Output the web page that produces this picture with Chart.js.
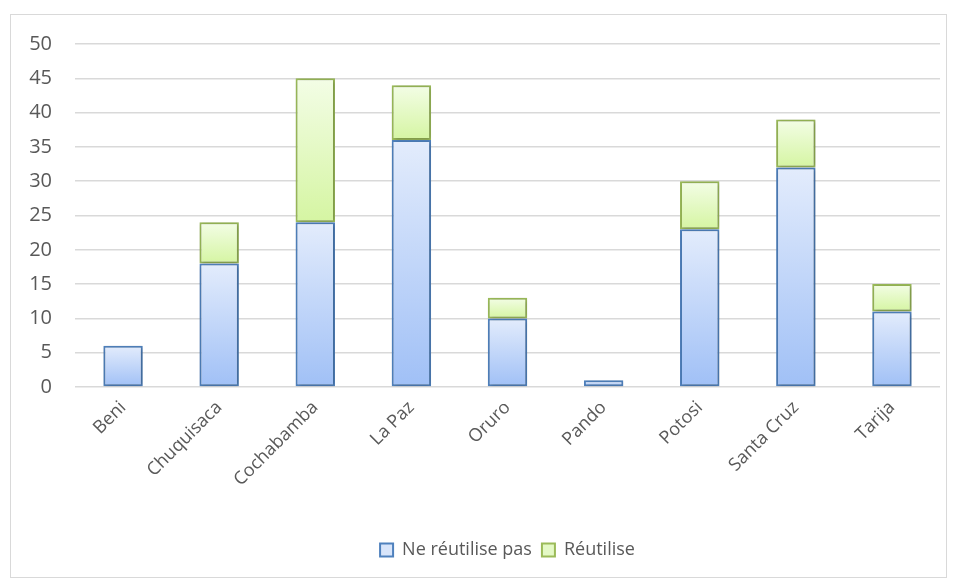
<!DOCTYPE html>
<html>
<head>
<meta charset="utf-8">
<script src="https://cdn.jsdelivr.net/npm/chart.js@4.4.1/dist/chart.umd.min.js"></script>
<style>
  html, body { margin: 0; padding: 0; background: #fff; }
  .frame {
    position: absolute; left: 10px; top: 14px;
    width: 935px; height: 562px;
    border: 1px solid #d9d9d9;
  }
</style>
</head>
<body>
<div class="frame"><canvas id="chart"></canvas></div>
<script>
const departments = ['Beni', 'Chuquisaca', 'Cochabamba', 'La Paz', 'Oruro', 'Pando', 'Potosi', 'Santa Cruz', 'Tarija'];
const noReuse = [6, 18, 24, 36, 10, 1, 23, 32, 11];
const reuse = [0, 6, 21, 8, 3, 0, 7, 7, 4];
const yTicks = [0, 5, 10, 15, 20, 25, 30, 35, 40, 45, 50];

// each stacked segment gets its own top-to-bottom gradient
function segmentFill(light, dark, flat) {
    return function(c) {
        const chart = c.chart, y = chart.scales.y;
        if (c.type !== 'data' || !y) return flat;
        let base = 0;
        for (let k = 0; k < c.datasetIndex; k++) base += chart.data.datasets[k].data[c.dataIndex];
        const v = chart.data.datasets[c.datasetIndex].data[c.dataIndex];
        const top = y.getPixelForValue(base + v), bot = y.getPixelForValue(base);
        if (!isFinite(top) || !isFinite(bot) || top === bot) return flat;
        const g = chart.ctx.createLinearGradient(0, top, 0, bot);
        g.addColorStop(0, light);
        g.addColorStop(1, dark);
        return g;
    };
}

const legendFill = ['#d8e5fa', '#e4f9c6'];

const barShadow = {
    id: 'barShadow',
    beforeDatasetsDraw(chart) {
        const ctx = chart.ctx;
        ctx.save();
        ctx.shadowColor = 'rgba(0,0,0,0.28)';
        ctx.shadowBlur = 4;
        ctx.shadowOffsetX = 1;
        ctx.shadowOffsetY = 1;
    },
    afterDatasetsDraw(chart) {
        chart.ctx.restore();
    }
};

const ctx = document.getElementById('chart').getContext('2d');
new Chart(ctx, {
    type: 'bar',
    data: {
        labels: departments,
        datasets: [{
            label: 'Ne réutilise pas',
            data: noReuse,
            backgroundColor: segmentFill('#e3ecfc', '#a0c0f6', legendFill[0]),
            borderColor: '#4f81bd',
            borderWidth: 2,
            borderSkipped: false
        }, {
            label: 'Réutilise',
            data: reuse,
            backgroundColor: segmentFill('#f3fde6', '#d5f5a2', legendFill[1]),
            borderColor: '#9bbb59',
            borderWidth: 2,
            borderSkipped: false
        }]
    },
    options: {
        responsive: true,
        maintainAspectRatio: false,
        animation: false,
        layout: { padding: { left: 0, right: 6, top: 29, bottom: 8 } },
        datasets: { bar: { categoryPercentage: 1, barPercentage: 0.41 } },
        scales: {
            x: {
                stacked: true,
                grid: { display: false },
                border: { display: false },
                afterFit(scale) {
                    scale.height = 144;
                    scale.paddingLeft = 0;
                },
                ticks: {
                    color: '#595959',
                    font: { family: 'Open Sans', size: 18 },
                    minRotation: 45, maxRotation: 45, padding: 2
                }
            },
            y: {
                stacked: true,
                min: 0, max: 50,
                afterBuildTicks(axis) { axis.ticks = yTicks.map(v => ({ value: v })); },
                afterFit(scale) {
                    scale.width = 64;
                    scale.paddingTop = 0;
                },
                grid: { color: '#d9d9d9', lineWidth: 1.5, drawTicks: false },
                border: { display: false },
                ticks: {
                    color: '#595959',
                    font: { family: 'Open Sans', size: 20 },
                    padding: 23
                }
            }
        },
        plugins: {
            tooltip: { enabled: false },
            legend: {
                position: 'bottom',
                fullSize: false,
                labels: {
                    color: '#595959',
                    font: { family: 'Open Sans', size: 18 },
                    boxWidth: 13, boxHeight: 13, padding: 10,
                    generateLabels(chart) {
                        return chart.data.datasets.map((ds, i) => ({
                            text: ds.label,
                            fillStyle: legendFill[i],
                            strokeStyle: ds.borderColor,
                            lineWidth: 2,
                            fontColor: '#595959',
                            hidden: false,
                            datasetIndex: i
                        }));
                    }
                }
            }
        }
    },
    plugins: [barShadow]
});
</script>
</body>
</html>
